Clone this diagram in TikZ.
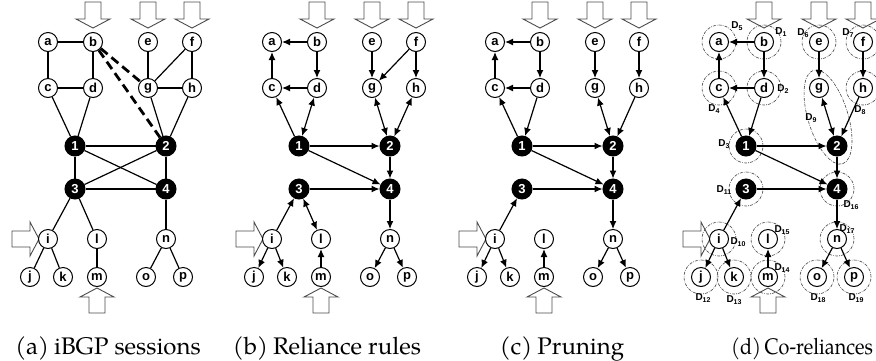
\documentclass[tikz,border=0pt]{standalone}
\usepackage{fontspec}
\newfontfamily\lsb{Liberation Sans}
\newfontfamily\capfont{TeX Gyre Pagella}
\usetikzlibrary{arrows.meta}
\tikzset{
 wn/.style={circle, draw, line width=1pt, fill=white, minimum size=19pt, inner sep=0pt, font=\lsb\bfseries\fontsize{13}{13}\selectfont},
 bn/.style={circle, draw, line width=1pt, fill=black, text=white, minimum size=20pt, inner sep=0pt, font=\lsb\bfseries\fontsize{13}{13}\selectfont},
 ln/.style={line width=1.2pt},
 ar/.style={line width=1.2pt, -{Latex[length=8pt,width=7pt]}},
 ar2/.style={line width=1.2pt, {Latex[length=8pt,width=7pt]}-{Latex[length=8pt,width=7pt]}},
 dl/.style={line width=2.8pt, dash pattern=on 9pt off 5pt},
 bigarrow/.style={draw=black!70, fill=white, line width=0.9pt, line join=miter},
 dc/.style={draw=black!75, line width=0.6pt, dash pattern=on 3pt off 1.2pt on 0.6pt off 1.2pt},
 dlab/.style={font=\lsb\bfseries\fontsize{10}{10}\selectfont, inner sep=0pt},
 captxt/.style={font=\capfont\fontsize{24}{24}\selectfont, anchor=base, inner sep=0pt},
}
\newcommand\topbig[1]{\draw[bigarrow,shift={(#1,0)}] (-8,2)--(8,2)--(8,19)--(17,19)--(0,28)--(-17,19)--(-8,19)--cycle;}
\newcommand\leftbig[2]{\draw[bigarrow,shift={(#1,#2)}] (0,-8)--(18,-8)--(18,-17)--(27,0)--(18,17)--(18,8)--(0,8)--cycle;}
\newcommand\botbig[2]{\draw[bigarrow,shift={(#1,#2)}] (0,0)--(17,9)--(8,9)--(8,25)--(-8,25)--(-8,9)--(-17,9)--cycle;}
\newcommand\Dl[1]{D\raisebox{-2.5pt}{\fontsize{7}{7}\selectfont #1}}
\newcommand\pnodes[1]{%
 \topbig{93}\topbig{148}\topbig{192}\leftbig{12}{239}\botbig{97}{288}%
 \node[wn] (#1-a) at (48,42) {a};
 \node[wn] (#1-b) at (93,42) {b};
 \node[wn] (#1-e) at (148,42) {e};
 \node[wn] (#1-f) at (192,42) {f};
 \node[wn] (#1-c) at (48,88) {c};
 \node[wn] (#1-d) at (93,88) {d};
 \node[wn] (#1-g) at (148,88) {g};
 \node[wn] (#1-h) at (192,88) {h};
 \node[bn] (#1-1) at (75,146) {1};
 \node[bn] (#1-2) at (166,146) {2};
 \node[bn] (#1-3) at (75,189) {3};
 \node[bn] (#1-4) at (166,189) {4};
 \node[wn] (#1-i) at (48,239) {i};
 \node[wn] (#1-l) at (97,239) {l};
 \node[wn] (#1-n) at (166,239) {n};
 \node[wn] (#1-j) at (30,277) {j};
 \node[wn] (#1-k) at (63,277) {k};
 \node[wn] (#1-m) at (97,277) {m};
 \node[wn] (#1-o) at (146,277) {o};
 \node[wn] (#1-p) at (183,277) {p};
}
\newcommand\pruned[1]{%
 \draw[ar] (#1-b)--(#1-a); \draw[ar] (#1-b)--(#1-d); \draw[ar] (#1-d)--(#1-c); \draw[ar] (#1-c)--(#1-a);
 \draw[ar] (#1-e)--(#1-g); \draw[ar] (#1-f)--(#1-h);
 \draw[ar] (#1-1)--(#1-c); \draw[ar] (#1-d)--(#1-1);
 \draw[ar2] (#1-g)--(#1-2); \draw[ar] (#1-h)--(#1-2);
 \draw[ar] (#1-1)--(#1-2); \draw[ar] (#1-1)--(#1-4); \draw[ar] (#1-2)--(#1-4); \draw[ar] (#1-3)--(#1-4);
 \draw[ar] (#1-i)--(#1-3); \draw[ar] (#1-4)--(#1-n);
 \draw[ar] (#1-i)--(#1-j); \draw[ar] (#1-i)--(#1-k); \draw[ar] (#1-m)--(#1-l);
 \draw[ar] (#1-n)--(#1-o); \draw[ar] (#1-n)--(#1-p);
}
\begin{document}
\begin{tikzpicture}[x=1pt,y=-1pt]
\useasboundingbox (0,0) rectangle (876,360);
% ---------- panel (a)
\pnodes{A}
\draw[ln] (A-a)--(A-b); \draw[ln] (A-a)--(A-c); \draw[ln] (A-b)--(A-d); \draw[ln] (A-c)--(A-d);
\draw[ln] (A-e)--(A-g); \draw[ln] (A-f)--(A-g); \draw[ln] (A-f)--(A-h); \draw[ln] (A-g)--(A-h);
\draw[ln] (A-c)--(A-1); \draw[ln] (A-d)--(A-1); \draw[ln] (A-g)--(A-2); \draw[ln] (A-h)--(A-2);
\draw[ln] (A-1)--(A-2); \draw[ln] (A-1)--(A-3); \draw[ln] (A-1)--(A-4);
\draw[ln] (A-2)--(A-3); \draw[ln] (A-2)--(A-4); \draw[ln] (A-3)--(A-4);
\draw[ln] (A-3)--(A-i); \draw[ln] (A-3)--(A-l); \draw[ln] (A-4)--(A-n);
\draw[ln] (A-i)--(A-j); \draw[ln] (A-i)--(A-k); \draw[ln] (A-l)--(A-m);
\draw[ln] (A-n)--(A-o); \draw[ln] (A-n)--(A-p);
\draw[dl] (A-b)--(A-g); \draw[dl] (A-b)--(A-2);
\node[captxt] (capA) at (108,354) {(a)\hspace{5pt}iBGP sessions};
% ---------- panel (b)
\begin{scope}[xshift=224pt]
\pnodes{B}
\draw[ar] (B-b)--(B-a); \draw[ar] (B-b)--(B-d); \draw[ar] (B-d)--(B-c); \draw[ar] (B-c)--(B-a);
\draw[ar] (B-e)--(B-g); \draw[ar] (B-f)--(B-g); \draw[ar] (B-f)--(B-h);
\draw[ar] (B-1)--(B-c); \draw[ar2] (B-1)--(B-d);
\draw[ar2] (B-g)--(B-2); \draw[ar2] (B-h)--(B-2);
\draw[ar] (B-1)--(B-2); \draw[ar] (B-1)--(B-4); \draw[ar] (B-2)--(B-4); \draw[ar] (B-3)--(B-4);
\draw[ar] (B-i)--(B-3); \draw[ar2] (B-3)--(B-l); \draw[ar] (B-4)--(B-n);
\draw[ar] (B-i)--(B-j); \draw[ar] (B-i)--(B-k); \draw[ar] (B-m)--(B-l);
\draw[ar] (B-n)--(B-o); \draw[ar] (B-n)--(B-p);
\node[captxt] (capB) at (103,354) {(b)\hspace{5pt}Reliance rules};
\end{scope}
% ---------- panel (c)
\begin{scope}[xshift=447pt]
\pnodes{C}
\pruned{C}
\node[captxt] (capC) at (115,354) {(c)\hspace{5pt}Pruning};
\end{scope}
% ---------- panel (d)
\begin{scope}[xshift=671pt]
\pnodes{D}
\foreach \n in {a,b,c,d,e,f,h,1,3,4,i,j,k,l,m,n,o,p}{\draw[dc] (D-\n) circle[radius=17pt];}
\draw[dc,rotate around={-72.8:(157,117)}] (157,117) ellipse[x radius=49pt, y radius=20pt];
\pruned{D}
\node[captxt, font=\capfont\fontsize{22.5}{22.5}\selectfont] (capD) at (131,354) {\scalebox{0.88}[1]{(d)\hspace{4pt}Co-reliances}};
\end{scope}
% D labels
\node[dlab] (d1) at (781,32) {\Dl{1}};
\node[dlab] (d2) at (783,89) {\Dl{2}};
\node[dlab] (d3) at (724,144) {\Dl{3}};
\node[dlab] (d4) at (714,109) {\Dl{4}};
\node[dlab] (d5) at (737,26) {\Dl{5}};
\node[dlab] (d6) at (803,33) {\Dl{6}};
\node[dlab] (d7) at (848,33) {\Dl{7}};
\node[dlab] (d8) at (860,110) {\Dl{8}};
\node[dlab] (d9) at (811,118) {\Dl{9}};
\node[dlab] (d10) at (738,242) {\Dl{10}};
\node[dlab] (d11) at (724,190) {\Dl{11}};
\node[dlab] (d12) at (703,298) {\Dl{12}};
\node[dlab] (d13) at (734,300) {\Dl{13}};
\node[dlab] (d14) at (782,268) {\Dl{14}};
\node[dlab] (d15) at (782,230) {\Dl{15}};
\node[dlab] (d16) at (851,205) {\Dl{16}};
\node[dlab] (d17) at (847,229) {\Dl{17}};
\node[dlab] (d18) at (818,298) {\Dl{18}};
\node[dlab] (d19) at (856,298) {\Dl{19}};
\end{tikzpicture}
\end{document}
